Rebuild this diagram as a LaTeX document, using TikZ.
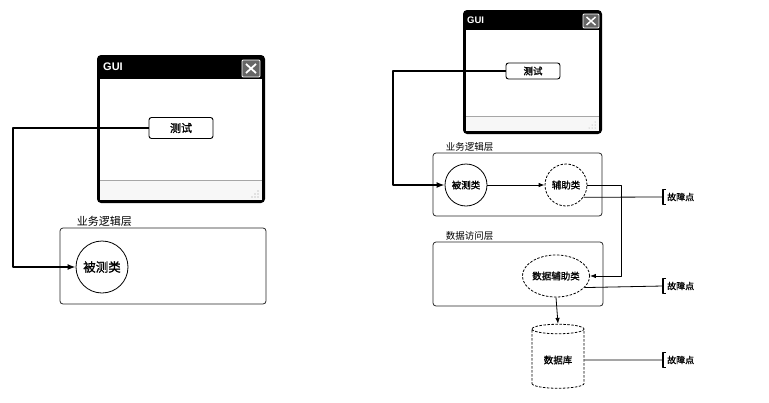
\documentclass[tikz,border=0pt]{standalone}
\usepackage{fontspec}
\setmainfont{Liberation Sans}
\newfontfamily\cjk{Noto Sans CJK SC}
\newfontfamily\cjkb[FakeBold=1.2]{Noto Sans CJK SC}
\usetikzlibrary{arrows.meta,shapes.geometric}

\tikzset{
  bigarrow/.style={line width=1.6pt,-{Latex[length=8pt,width=6pt]}},
  arr/.style={line width=0.8pt,-{Latex[length=6pt,width=4.5pt]}},
  wire/.style={line width=0.8pt},
  btn/.style={draw,rounded corners=2.5pt,line width=0.9pt,fill=white},
  layerbox/.style={draw,black!85,rounded corners=3pt,line width=0.8pt},
  layername/.style={inner sep=1pt,font=\cjk\fontsize{#1}{#1}\selectfont},
  cls/.style={draw,circle,line width=0.8pt,inner sep=0pt},
  helper/.style={cls,dashed,dash pattern=on 2.5pt off 1.5pt},
  gui/.style={text=white,font=\bfseries\fontsize{#1}{#1}\selectfont,inner sep=0pt},
  fault/.style={anchor=west,inner xsep=4pt,minimum height=14pt,font=\cjkb\fontsize{9}{9}\selectfont},
  brk/.style={line width=1.4pt}
}

\begin{document}
\begin{tikzpicture}[x=1pt,y=-1pt,line join=round]
\useasboundingbox (0,0) rectangle (769,402);

% left window
\fill[black,rounded corners=4pt] (97,55) rectangle (265,203);
\fill[white] (100,79) rectangle (262,200);
\fill[gray!6] (100,181) rectangle (262,200);
\draw[gray!70,line width=0.8pt] (100,180) -- (262,180);
\foreach \p in {(258,197),(255,197),(258,194),(252,197),(258,191),(255,194)}
  \fill[gray!80] \p circle (0.6);
\draw[white,fill=black!60,line width=0.8pt,rounded corners=1pt] (242,60) rectangle (260,77);
\draw[white,line width=1.8pt] (246,64) -- (256,73) (256,64) -- (246,73);
\node[gui=11,anchor=west] (L_title) at (103,67) {GUI};

% right window
\fill[black,rounded corners=4pt] (463,10) rectangle (602,134);
\fill[white] (466,30) rectangle (599,131);
\fill[gray!6] (466,117) rectangle (599,131);
\draw[gray!70,line width=0.8pt] (466,116) -- (599,116);
\foreach \p in {(595,128),(592,128),(595,125),(589,128),(595,122),(592,125)}
  \fill[gray!80] \p circle (0.5);
\draw[white,fill=black!60,line width=0.8pt,rounded corners=1pt] (583,14) rectangle (599,28);
\draw[white,line width=1.5pt] (586.5,17) -- (595.5,25) (595.5,17) -- (586.5,25);
\node[gui=9.5,anchor=west] (R_title) at (467,20.5) {GUI};

% left: one layer
\node[btn,minimum width=64pt,minimum height=21pt,font=\cjkb\fontsize{11}{11}\selectfont] (L_test) at (181,128) {测试};
\node[layerbox,minimum width=206pt,minimum height=76pt] (L_biz) at (163,266) {};
\node[layername=11,anchor=south west] (L_bizname) at ([xshift=16pt]L_biz.north west) {业务逻辑层};
\node[cls,minimum size=52pt,font=\cjkb\fontsize{12.5}{12.5}\selectfont] (L_sut) at (102,267) {被测类};
\coordinate (L_bend) at (13,128);
\draw[bigarrow] (L_test.west) -- (L_bend) |- (L_sut.west);

% right: two layers and database
\node[btn,minimum width=54pt,minimum height=16pt,font=\cjkb\fontsize{9.5}{9.5}\selectfont] (R_test) at (533,71) {测试};
\node[layerbox,minimum width=169pt,minimum height=63pt] (R_biz) at (517.5,184.5) {};
\node[layername=9.5,anchor=south west] (R_bizname) at ([xshift=12pt]R_biz.north west) {业务逻辑层};
\node[layerbox,minimum width=170pt,minimum height=64pt] (R_dal) at (518,274) {};
\node[layername=9.5,anchor=south west] (R_dalname) at ([xshift=12pt]R_dal.north west) {数据访问层};

\node[cls,minimum size=42pt,font=\cjkb\fontsize{9.5}{9.5}\selectfont] (R_sut) at (466,185) {被测类};
\node[helper,minimum size=42pt,font=\cjkb\fontsize{9.5}{9.5}\selectfont] (R_helper) at (566,185) {辅助类};
\node[helper,ellipse,minimum width=56pt,minimum height=42pt,font=\cjkb\fontsize{9.5}{9.5}\selectfont] (R_dah) at (556,276) {数据辅助类};
\node[draw,cylinder,shape border rotate=90,aspect=0.27,minimum width=52pt,minimum height=64pt,
      line width=0.8pt,dashed,dash pattern=on 2.5pt off 1.5pt,font=\cjkb\fontsize{9.5}{9.5}\selectfont] (R_db) at (558,360) {数据库};

\coordinate (R_bend) at (393,71);
\draw[bigarrow] (R_test.west) -- (R_bend) |- (R_sut.west);
\draw[arr] (R_sut.east) -- (R_helper.west);
\coordinate (R_down) at (621,185);
\draw[arr] (R_helper.east) -- (R_down) |- (R_dah.east);
\draw[arr] (R_dah.south) -- (R_db.north);

% fault points
\node[fault] (F1) at (663,197) {故障点};
\node[fault] (F2) at (663,286) {故障点};
\node[fault] (F3) at (663,360) {故障点};
\draw[wire] (R_helper.-35) -- (F1.west);
\draw[wire] (R_dah.-22) -- (F2.west);
\draw[wire] (R_db.east) -- (F3.west);
\foreach \f in {F1,F2,F3}
  \draw[brk] ([xshift=3pt]\f.north west) -- (\f.north west) -- (\f.south west) -- ([xshift=3pt]\f.south west);
\end{tikzpicture}
\end{document}
